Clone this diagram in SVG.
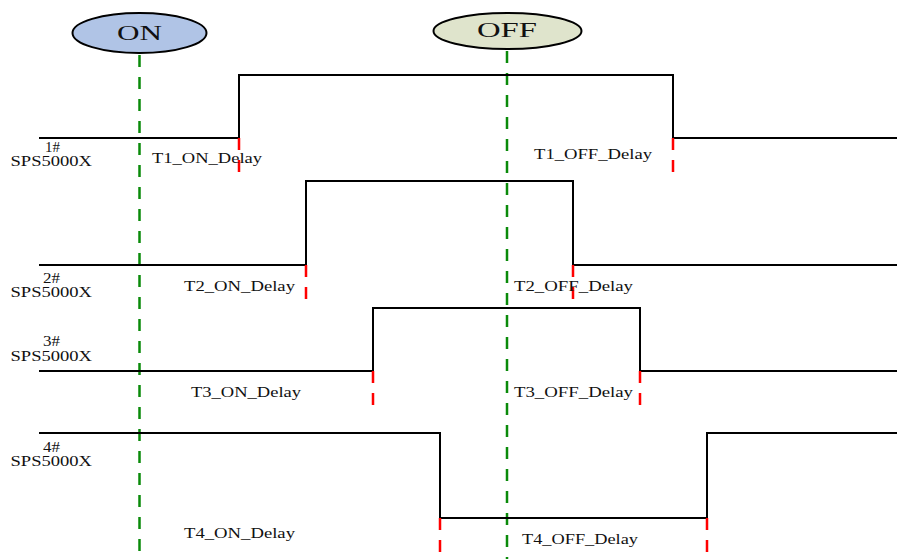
<svg xmlns="http://www.w3.org/2000/svg" width="897" height="559" viewBox="0 0 897 559">
<style>
text{font-family:"Liberation Serif","Times New Roman",serif;fill:#111}
.lbl{font-size:14px}
.big{font-size:20px}
.sig{fill:none;stroke:#000;stroke-width:2}
.grn{stroke:#0a8a0a;stroke-width:2.5;stroke-dasharray:12 10;fill:none}
.red{stroke:#ff0000;stroke-width:2.5;stroke-dasharray:12 10;fill:none}
.ell{stroke:#000;stroke-width:2}
</style>
<g id="connectors">
<line class="grn" x1="139.5" y1="55" x2="139.5" y2="559"/>
<line class="grn" x1="507" y1="51" x2="507" y2="559"/>
<polyline class="sig" points="39,138 239,138 239,75 673,75 673,138 897,138"/>
<polyline class="sig" points="39,265 306,265 306,181 573,181 573,265 897,265"/>
<polyline class="sig" points="39,371 373,371 373,308 640,308 640,371 897,371"/>
<polyline class="sig" points="39,433 440,433 440,518 707,518 707,433 897,433"/>
<line class="red" x1="239" y1="138" x2="239" y2="173"/>
<line class="red" x1="673" y1="138" x2="673" y2="173"/>
<line class="red" x1="306" y1="265" x2="306" y2="300"/>
<line class="red" x1="573" y1="265" x2="573" y2="300"/>
<line class="red" x1="373" y1="371" x2="373" y2="406"/>
<line class="red" x1="640" y1="371" x2="640" y2="406"/>
<line class="red" x1="440" y1="518" x2="440" y2="553"/>
<line class="red" x1="707" y1="518" x2="707" y2="553"/>
</g>
<g id="node-on">
<ellipse class="ell" cx="139.5" cy="33" rx="67" ry="20" fill="#b0c4e6"/>
<text class="big" x="117" y="40" textLength="45" lengthAdjust="spacingAndGlyphs">ON</text>
</g>
<g id="node-off">
<ellipse class="ell" cx="507.5" cy="31" rx="74" ry="18" fill="#dfe4cc"/>
<text class="big" x="477" y="37" textLength="60" lengthAdjust="spacingAndGlyphs">OFF</text>
</g>
<g id="sps1">
<text class="lbl" x="45" y="152" textLength="15" lengthAdjust="spacingAndGlyphs">1#</text>
<text class="lbl" x="10.5" y="165.5" textLength="81.5" lengthAdjust="spacingAndGlyphs">SPS5000X</text>
<text class="lbl" x="152" y="163" textLength="110" lengthAdjust="spacingAndGlyphs">T1_ON_Delay</text>
<text class="lbl" x="534" y="158.5" textLength="118" lengthAdjust="spacingAndGlyphs">T1_OFF_Delay</text>
</g>
<g id="sps2">
<text class="lbl" x="43" y="283" textLength="17" lengthAdjust="spacingAndGlyphs">2#</text>
<text class="lbl" x="10.5" y="296.5" textLength="81.5" lengthAdjust="spacingAndGlyphs">SPS5000X</text>
<text class="lbl" x="184" y="290.5" textLength="111" lengthAdjust="spacingAndGlyphs">T2_ON_Delay</text>
<text class="lbl" x="514" y="290.5" textLength="119" lengthAdjust="spacingAndGlyphs">T2_OFF_Delay</text>
</g>
<g id="sps3">
<text class="lbl" x="43" y="346" textLength="17" lengthAdjust="spacingAndGlyphs">3#</text>
<text class="lbl" x="10.5" y="361" textLength="81.5" lengthAdjust="spacingAndGlyphs">SPS5000X</text>
<text class="lbl" x="191" y="396.5" textLength="110" lengthAdjust="spacingAndGlyphs">T3_ON_Delay</text>
<text class="lbl" x="514" y="396.5" textLength="119" lengthAdjust="spacingAndGlyphs">T3_OFF_Delay</text>
</g>
<g id="sps4">
<text class="lbl" x="43" y="452" textLength="17" lengthAdjust="spacingAndGlyphs">4#</text>
<text class="lbl" x="10.5" y="465.5" textLength="81.5" lengthAdjust="spacingAndGlyphs">SPS5000X</text>
<text class="lbl" x="184" y="537.5" textLength="111" lengthAdjust="spacingAndGlyphs">T4_ON_Delay</text>
<text class="lbl" x="522" y="543.5" textLength="116" lengthAdjust="spacingAndGlyphs">T4_OFF_Delay</text>
</g>
</svg>
